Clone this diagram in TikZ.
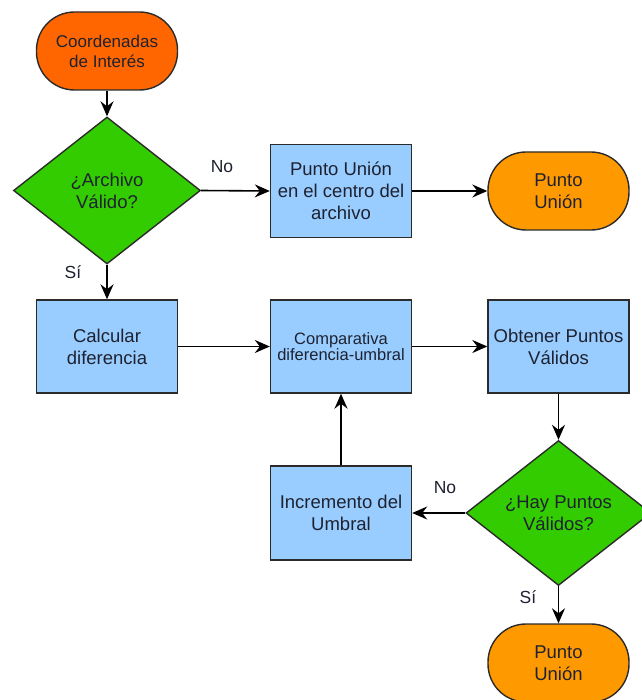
\documentclass[tikz,border=0pt]{standalone}
\usepackage{fontspec}
\setmainfont{Liberation Sans}
\usetikzlibrary{shapes.geometric,arrows.meta}

\definecolor{startorange}{HTML}{FF6600}
\definecolor{endorange}{HTML}{FF9900}
\definecolor{decgreen}{HTML}{33CC00}
\definecolor{procblue}{HTML}{99CCFF}
\definecolor{edge}{HTML}{2B2B2B}
\definecolor{txt}{HTML}{1E2230}

\tikzset{
  basefont/.style={font=\fontsize{18.5}{22}\selectfont, text=txt, align=center},
  procbox/.style={basefont, rectangle, draw=edge, fill=procblue, line width=1.4pt,
    minimum width=141pt, minimum height=93pt, inner sep=0pt},
  termbox/.style={basefont, rectangle, rounded corners=38pt, draw=edge, line width=1.4pt,
    minimum width=141pt, minimum height=78pt, inner sep=0pt},
  decbox/.style={basefont, diamond, aspect=1.27, draw=edge, fill=decgreen, line width=1.4pt,
    minimum width=187pt, minimum height=147pt, inner sep=0pt},
  flow/.style={draw=black, line width=1.6pt, -{Stealth[length=15pt,width=13pt,inset=5pt]}},
  branch/.style={font=\fontsize{17.5}{20}\selectfont, text=txt}
}

\begin{document}
\begin{tikzpicture}[x=1pt,y=-1pt]
  \useasboundingbox (0,0) rectangle (641,700);

  % nodes
  \node[termbox, fill=startorange, font=\fontsize{17}{20}\selectfont] (start) at (107,51)
    {Coordenadas\\de Interés};
  \node[decbox] (dfile) at (107,190.5) {¿Archivo\\Válido?};
  \node[procbox] (center) at (341,191) {Punto Unión\\en el centro del\\archivo};
  \node[termbox, fill=endorange] (endA) at (558.5,191) {Punto\\Unión};

  \node[procbox] (calc) at (107,346.5) {Calcular\\diferencia};
  \node[procbox, font=\fontsize{16.5}{16}\selectfont] (comp) at (341,346.5)
    {Comparativa\\diferencia-umbral};
  \node[procbox] (obt) at (558.5,346.5) {Obtener Puntos\\Válidos};

  \node[decbox, minimum width=185pt, minimum height=145pt] (dpts) at (558.5,513)
    {¿Hay Puntos\\Válidos?};
  \node[procbox, minimum height=94pt] (inc) at (341,513) {Incremento del\\Umbral};
  \node[termbox, fill=endorange] (endB) at (558.5,663) {Punto\\Unión};

  % branch labels
  \node[branch] (noA) at (222,167) {No};
  \node[branch] (siA) at (73,272) {Sí};
  \node[branch] (noB) at (445,488) {No};
  \node[branch] (siB) at (528,597) {Sí};

  % connectors
  \draw[flow] (start) -- (dfile);
  \draw[flow] (dfile.east) -- (center.west);
  \draw[flow] (center.east) -- (endA.west);
  \draw[flow] (dfile.south) -- (calc.north);
  \draw[flow] (calc.east) -- (comp.west);
  \draw[flow] (comp.east) -- (obt.west);
  \draw[flow] (obt.south) -- (dpts.north);
  \draw[flow] (dpts.west) -- (inc.east);
  \draw[flow] (inc.north) -- (comp.south);
  \draw[flow] (dpts.south) -- (endB.north);
\end{tikzpicture}
\end{document}
